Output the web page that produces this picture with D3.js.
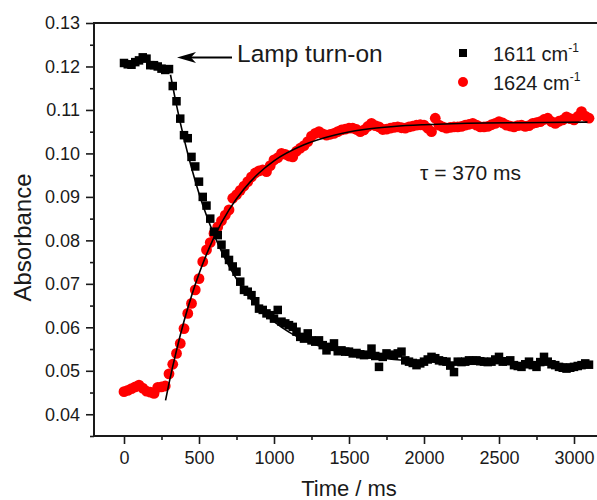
<!DOCTYPE html>
<html><head><meta charset="utf-8">
<script src="https://cdn.jsdelivr.net/npm/d3@7"></script>
<style>
body{margin:0;background:#fff;}
svg{display:block;}
text{font-family:Arial,"Liberation Sans",sans-serif;fill:#1a1a1a;}
</style>
</head><body>
<svg id="chart" width="597" height="500"></svg>
<script>
const timeMs = [0,25,50,75,100,125,150,175,200,225,250,275,300,325,350,375,400,425,450,475,500,525,550,575,600,625,650,675,700,725,750,775,800,825,850,875,900,925,950,975,1000,1025,1050,1075,1100,1125,1150,1175,1200,1225,1250,1275,1300,1325,1350,1375,1400,1425,1450,1475,1500,1525,1550,1575,1600,1625,1650,1675,1700,1725,1750,1775,1800,1825,1850,1875,1900,1925,1950,1975,2000,2025,2050,2075,2100,2125,2150,2175,2200,2225,2250,2275,2300,2325,2350,2375,2400,2425,2450,2475,2500,2525,2550,2575,2600,2625,2650,2675,2700,2725,2750,2775,2800,2825,2850,2875,2900,2925,2950,2975,3000,3025,3050,3075,3100];

const abs1611 = [
.1208,.1205,.1204,.1210,.1214,.1221,.1218,.1203,.1203,.1200,
.1195,.1192,.1194,.1155,.1120,.1080,.1042,.1035,.0992,.0970,
.0935,.0900,.0880,.0850,.0820,.0812,.0790,.0770,.0755,.0740,
.0728,.0705,.0686,.0682,.0674,.0660,.0643,.0640,.0632,.0628,
.0620,.0640,.0613,.0609,.0605,.0601,.0590,.0578,.0574,.0586,
.0570,.0567,.0570,.0559,.0547,.0555,.0563,.0545,.0547,.0544,
.0544,.0540,.0541,.0538,.0536,.0537,.0551,.0534,.0509,.0532,
.0540,.0537,.0536,.0540,.0544,.0524,.0521,.0518,.0513,.0517,
.0521,.0526,.0532,.0529,.0524,.0522,.0521,.0512,.0497,.0521,
.0520,.0521,.0524,.0523,.0524,.0522,.0521,.0520,.0521,.0526,
.0532,.0521,.0522,.0524,.0513,.0511,.0509,.0515,.0521,.0513,
.0509,.0520,.0532,.0521,.0515,.0513,.0509,.0507,.0505,.0507,
.0509,.0511,.0513,.0517,.0514];

const abs1624 = [
.0452,.0455,.0459,.0463,.0467,.0460,.0453,.0451,.0448,.0462,
.0463,.0465,.0493,.0515,.0540,.0563,.0597,.0632,.0655,.0686,
.0712,.0751,.0778,.0795,.0816,.0831,.0845,.0858,.0870,.0897,
.0905,.0915,.0925,.0935,.0946,.0955,.0960,.0962,.0958,.0972,
.0985,.0990,.1000,.0998,.0994,.0992,.1005,.1012,.1018,.1027,
.1040,.1046,.1050,.1045,.1042,.1044,.1046,.1050,.1054,.1056,
.1058,.1058,.1055,.1050,.1054,.1062,.1069,.1064,.1061,.1055,
.1056,.1058,.1060,.1061,.1059,.1058,.1061,.1063,.1065,.1066,
.1065,.1058,.1050,.1081,.1065,.1061,.1058,.1060,.1061,.1061,
.1062,.1065,.1067,.1069,.1065,.1061,.1061,.1062,.1066,.1069,
.1073,.1070,.1065,.1063,.1061,.1064,.1065,.1062,.1064,.1069,
.1071,.1073,.1078,.1081,.1073,.1069,.1074,.1077,.1084,.1080,
.1077,.1085,.1096,.1086,.1081];

const fit1611T = [310,350,400,450,500,550,600,700,800,900,1000,1100,1200,1400,1600,1800,2000,2400,2800,3100];
const fit1611A = [0.1181,0.1111,0.1034,0.0967,0.0908,0.0857,0.0813,0.0741,0.0686,0.0644,0.0613,0.0589,0.0571,0.0547,0.0534,0.0526,0.0521,0.0517,0.0516,0.0515];
const fit1624T = [277,300,350,400,450,500,600,700,800,900,1000,1200,1400,1600,1800,2000,2400,2800,3090];
const fit1624A = [0.0432,0.0471,0.0547,0.0614,0.0672,0.0723,0.0807,0.0870,0.0918,0.0955,0.0983,0.1020,0.1042,0.1055,0.1062,0.1066,0.1070,0.1071,0.1072];

const xMajorTicks = [0,500,1000,1500,2000,2500,3000];
const xMinorTicks = [250,750,1250,1750,2250,2750];
const yMajorTicks = [0.04,0.05,0.06,0.07,0.08,0.09,0.10,0.11,0.12,0.13];
const yMinorTicks = [0.035,0.045,0.055,0.065,0.075,0.085,0.095,0.105,0.115,0.125];
const legendLabels = ["1611 cm", "1624 cm"];
const legendSup = "-1";
const annotationText = "Lamp turn-on";
const tauText = "\u03C4 = 370 ms";
const xTitle = "Time / ms";
const yTitle = "Absorbance";

const svg = d3.select("#chart");
const L = 94, R = 604, T = 23, B = 436;
const x = d3.scaleLinear().domain([-200, 3200]).range([L, R]);
const y = d3.scaleLinear().domain([0.035, 0.13]).range([B, T]);
const axisColor = "#1a1a1a";

// axes
const gx = svg.append("g").attr("transform", `translate(0,${B})`)
  .call(d3.axisBottom(x).tickValues(xMajorTicks).tickSize(8).tickPadding(7).tickFormat(d3.format("d")));
const gxm = svg.append("g").attr("transform", `translate(0,${B})`)
  .call(d3.axisBottom(x).tickValues(xMinorTicks).tickSize(4).tickFormat(""));
const gy = svg.append("g").attr("transform", `translate(${L},0)`)
  .call(d3.axisLeft(y).tickValues(yMajorTicks).tickSize(8).tickPadding(6).tickFormat(d3.format(".2f")));
const gym = svg.append("g").attr("transform", `translate(${L},0)`)
  .call(d3.axisLeft(y).tickValues(yMinorTicks).tickSize(4).tickFormat(""));
[gx, gxm, gy, gym].forEach(g => {
  g.select(".domain").remove();
  g.selectAll("line").attr("stroke", axisColor).attr("stroke-width", 1.6);
  g.selectAll("text").attr("font-size", 18).attr("fill", "#1a1a1a")
    .attr("font-family", "Arial, 'Liberation Sans', sans-serif");
});

// frame
svg.append("rect").attr("x", L).attr("y", T).attr("width", R - L).attr("height", B - T)
  .attr("fill", "none").attr("stroke", axisColor).attr("stroke-width", 2);

// data: red circles
svg.append("g").selectAll("circle").data(timeMs.map((t, i) => [t, abs1624[i]]))
  .join("circle").attr("cx", d => x(d[0])).attr("cy", d => y(d[1])).attr("r", 5.4)
  .attr("fill", "#ff0000");

// black squares
const s = 8.5;
svg.append("g").selectAll("rect").data(timeMs.map((t, i) => [t, abs1611[i]]))
  .join("rect").attr("x", d => x(d[0]) - s / 2).attr("y", d => y(d[1]) - s / 2)
  .attr("width", s).attr("height", s).attr("fill", "#000");

// fit lines
const line = d3.line().x(d => x(d[0])).y(d => y(d[1])).curve(d3.curveMonotoneX);
svg.append("path").datum(fit1624T.map((t, i) => [t, fit1624A[i]]))
  .attr("d", line).attr("fill", "none").attr("stroke", "#000").attr("stroke-width", 1.6);
svg.append("path").datum(fit1611T.map((t, i) => [t, fit1611A[i]]))
  .attr("d", line).attr("fill", "none").attr("stroke", "#000").attr("stroke-width", 1.6);

// annotation arrow
const arrowY = 57.5;
svg.append("line").attr("x1", 232).attr("y1", arrowY).attr("x2", 190).attr("y2", arrowY)
  .attr("stroke", "#000").attr("stroke-width", 1.8);
svg.append("path").attr("d", `M177,${arrowY} L196,${arrowY - 5.5} L191,${arrowY} L196,${arrowY + 5.5} Z`)
  .attr("fill", "#000");
svg.append("text").attr("x", 237).attr("y", 62).attr("font-size", 24.5).text(annotationText);

// tau text
svg.append("text").attr("x", 420).attr("y", 180).attr("font-size", 21).text(tauText);

// legend
const legY = [53, 82];
svg.append("rect").attr("x", 463 - 4).attr("y", legY[0] - 4).attr("width", 8).attr("height", 8).attr("fill", "#000");
svg.append("circle").attr("cx", 463).attr("cy", legY[1]).attr("r", 5).attr("fill", "#ff0000");
legendLabels.forEach((lab, i) => {
  const t = svg.append("text").attr("x", 493).attr("y", legY[i] + 7.5).attr("font-size", 20).text(lab);
  t.append("tspan").attr("dy", -9).attr("font-size", 12).text(legendSup);
});

// axis titles
svg.append("text").attr("x", (L + R) / 2).attr("y", 496).attr("text-anchor", "middle")
  .attr("font-size", 22).text(xTitle);
svg.append("text").attr("transform", `translate(31,${(T + B) / 2 + 8}) rotate(-90)`)
  .attr("text-anchor", "middle").attr("font-size", 24).text(yTitle);
</script>
</body></html>
